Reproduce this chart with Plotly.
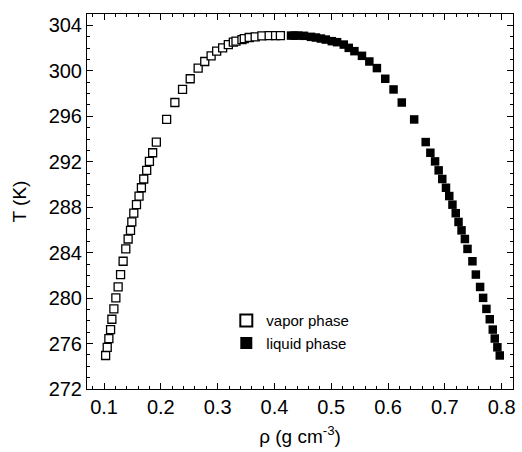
import plotly.graph_objects as go

# Temperatures (K) shared by both coexisting phases
temperature = [274.95, 275.67, 276.44, 277.23, 278.14, 279.05, 280.02, 280.98,
               282.07, 283.24, 284.33, 285.20, 285.96, 286.70, 287.47, 288.22,
               288.98, 289.71, 290.48, 291.24, 292.03, 292.79, 293.73, 295.72,
               297.21, 298.36, 299.30, 300.24, 300.82, 301.32, 301.73, 302.02,
               302.31, 302.52, 302.61, 302.75, 302.84, 302.93, 302.99, 303.08,
               303.10, 303.10, 303.10]

# Vapor-phase densities (g cm^-3)
vapor_rho = [0.1028, 0.1056, 0.1085, 0.1115, 0.1138, 0.1173, 0.1208, 0.1248,
             0.1291, 0.1336, 0.1383, 0.1424, 0.1466, 0.1489, 0.1524, 0.1571,
             0.1616, 0.1658, 0.1699, 0.1751, 0.1799, 0.1856, 0.1921, 0.2102,
             0.2247, 0.2382, 0.2517, 0.2657, 0.2773, 0.2885, 0.2983, 0.3088,
             0.3188, 0.3276, 0.3323, 0.3428, 0.3469, 0.3556, 0.3661, 0.3779,
             0.3907, 0.4020, 0.4105]

# Liquid-phase densities (g cm^-3)
liquid_rho = [0.7967, 0.7925, 0.7879, 0.7844, 0.7791, 0.7732, 0.7674, 0.7621,
              0.7546, 0.7486, 0.7399, 0.7353, 0.7294, 0.7241, 0.7192, 0.7134,
              0.7078, 0.7020, 0.6955, 0.6891, 0.6828, 0.6745, 0.6663, 0.6460,
              0.6242, 0.6097, 0.5951, 0.5804, 0.5671, 0.5541, 0.5408, 0.5308,
              0.5221, 0.5103, 0.5010, 0.4905, 0.4818, 0.4730, 0.4643, 0.4520,
              0.4415, 0.4353, 0.4292]

FONT = "Liberation Sans, Arial, Helvetica, sans-serif"

fig = go.Figure()
fig.add_trace(go.Scatter(
    x=vapor_rho, y=temperature, mode="markers", name="vapor phase",
    marker=dict(symbol="square", size=8, color="white",
                line=dict(color="black", width=1.3)),
))
fig.add_trace(go.Scatter(
    x=liquid_rho, y=temperature, mode="markers", name="liquid phase",
    marker=dict(symbol="square", size=8.5, color="black",
                line=dict(color="black", width=0)),
))

axis_common = dict(
    showgrid=False, zeroline=False, showline=True, linecolor="black",
    linewidth=1, mirror="ticks", ticks="inside", ticklen=6, tickwidth=1,
    tickcolor="black", tickfont=dict(family=FONT, size=20, color="black"),
    ticklabeloverflow="allow",
)

fig.update_xaxes(
    range=[0.07, 0.82], tick0=0.1, dtick=0.1, tickformat=".1f",
    minor=dict(ticks="inside", ticklen=3, dtick=0.02, tick0=0.1,
               tickcolor="black", tickwidth=1),
    title=dict(text="ρ (g cm<sup>-3</sup>)", standoff=12,
               font=dict(family=FONT, size=19, color="black")),
    **axis_common,
)
fig.update_yaxes(
    range=[272, 305], tick0=272, dtick=4,
    minor=dict(ticks="inside", ticklen=3, dtick=1, tick0=272,
               tickcolor="black", tickwidth=1),
    title=dict(text="T (K)", standoff=16,
               font=dict(family=FONT, size=19, color="black")),
    **axis_common,
)

fig.update_layout(
    width=522, height=452,
    margin=dict(l=87, r=7, t=14, b=63),
    paper_bgcolor="white", plot_bgcolor="white",
    showlegend=True,
    legend=dict(x=0.327, y=0.226, xanchor="left", yanchor="top",
                bgcolor="rgba(0,0,0,0)", borderwidth=0,
                font=dict(family=FONT, size=15, color="black"),
                itemsizing="constant"),
)

fig.write_html("out.html",
               config={"displayModeBar": False},
               post_script="document.body.style.margin='0';"
                           "document.body.style.overflow='hidden';")
